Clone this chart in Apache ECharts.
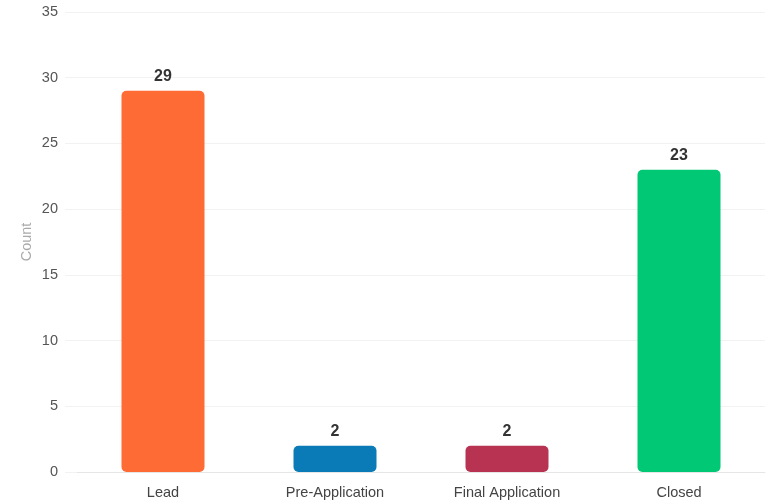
<!DOCTYPE html>
<html>
<head>
<meta charset="utf-8">
<script src="https://cdn.jsdelivr.net/npm/echarts@6/dist/echarts.min.js"></script>
<style>
html,body{margin:0;padding:0;background:#fff;}
#chart{width:769px;height:500px;}
</style>
</head>
<body>
<div id="chart"></div>
<script>
const categories = ['Lead', 'Pre-Application', 'Final Application', 'Closed'];
const counts = [29, 2, 2, 23];
const barColors = ['#FF6B35', '#0A7BB6', '#B83252', '#00C875'];
const yTicks = { min: 0, max: 35, interval: 5 };

const chart = echarts.init(document.getElementById('chart'));
chart.setOption({
  animation: false,
  grid: { left: 77, right: 4, top: 12, bottom: 28, containLabel: false },
  xAxis: {
    type: 'category',
    data: categories,
    axisLine: { show: true, lineStyle: { color: '#e6e6e6', width: 1 } },
    axisTick: { show: false },
    axisLabel: { color: '#444', fontSize: 14.5, margin: 13, fontFamily: 'Arial, Liberation Sans, sans-serif' },
    splitLine: { show: false }
  },
  yAxis: {
    type: 'value',
    min: yTicks.min, max: yTicks.max, interval: yTicks.interval,
    name: 'Count',
    nameLocation: 'middle',
    nameGap: 43,
    nameMoveOverlap: false,
    nameRotate: 90,
    nameTextStyle: { color: '#aaa', fontSize: 14.5, fontFamily: 'Arial, Liberation Sans, sans-serif' },
    axisLine: { show: false },
    axisTick: { show: true, length: 12, lineStyle: { color: '#f2f2f2' } },
    axisLabel: { color: '#555', fontSize: 14.5, margin: 19, fontFamily: 'Arial, Liberation Sans, sans-serif' },
    splitLine: { show: true, lineStyle: { color: '#f2f2f2', width: 1 } }
  },
  series: [{
    type: 'bar',
    data: counts.map((v, i) => ({ value: v, itemStyle: { color: barColors[i] } })),
    barWidth: 83,
    itemStyle: { borderRadius: 5 },
    label: {
      show: true,
      position: 'top',
      distance: 6,
      color: '#333',
      fontSize: 16,
      fontWeight: 'bold',
      fontFamily: 'Arial, Liberation Sans, sans-serif'
    }
  }]
});
</script>
</body>
</html>
